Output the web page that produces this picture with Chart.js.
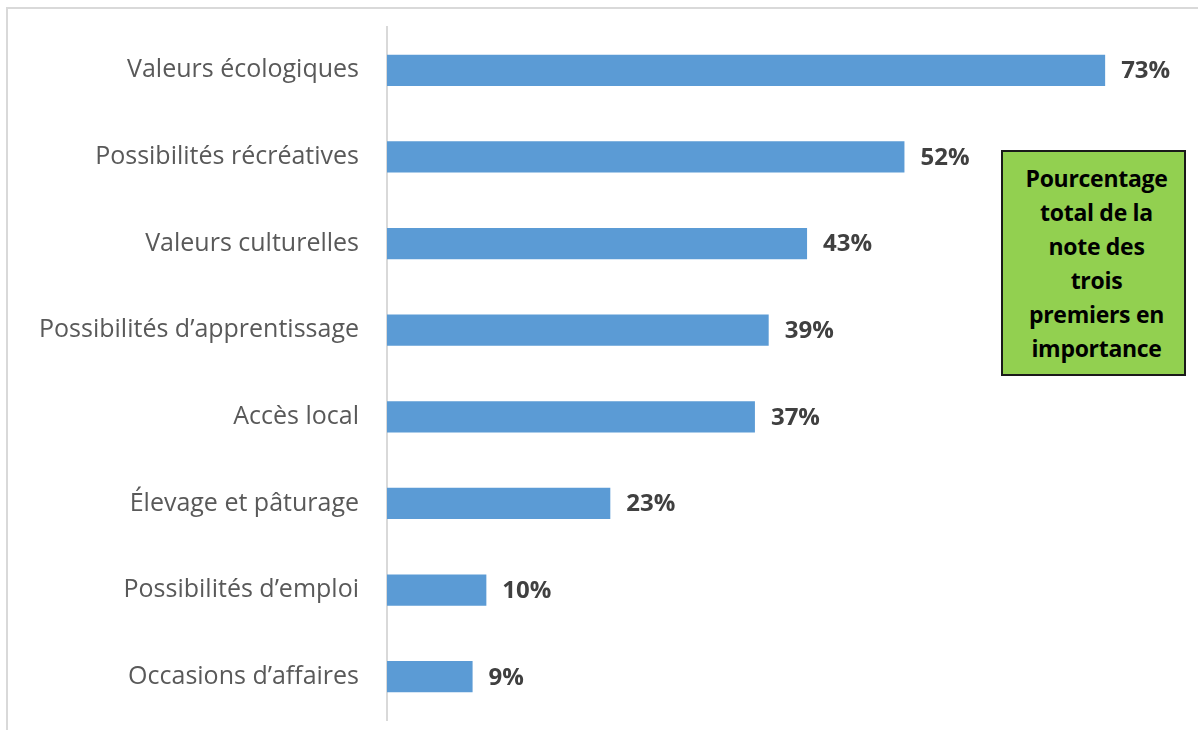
<!DOCTYPE html>
<html>
<head>
<meta charset="utf-8">
<script src="https://cdn.jsdelivr.net/npm/chart.js@4/dist/chart.umd.min.js"></script>
<style>
  body { margin: 0; background: #fff; }
  #wrap { position: relative; width: 1198px; height: 730px; }
  #frame { position: absolute; left: 6px; top: 7px; right: 0; bottom: 0;
           border-top: 2px solid #d9d9d9; border-left: 2px solid #d9d9d9; }
  #note { position: absolute; left: 1001px; top: 150px; height: 222px;
          background: #92d050; border: 2px solid #1a1a1a;
          font-family: "Open Sans", sans-serif; font-weight: bold; font-size: 23px;
          line-height: 34px; color: #000; text-align: center; letter-spacing: -0.3px;
          padding-left: 6px; box-sizing: content-box; width: 175px;
          display: flex; align-items: center; justify-content: center; }
  canvas { position: absolute; left: 0; top: 0; }
</style>
</head>
<body>
<div id="wrap">
  <div id="frame"></div>
  <canvas id="chart" width="1198" height="730"></canvas>
  <div id="note">Pourcentage<br>total de la<br>note des<br>trois<br>premiers en<br>importance</div>
</div>
<script>
const categories = [
    'Valeurs écologiques',
    'Possibilités récréatives',
    'Valeurs culturelles',
    'Possibilités d’apprentissage',
    'Accès local',
    'Élevage et pâturage',
    'Possibilités d’emploi',
    'Occasions d’affaires',
];
// bar lengths
const percentages = [73, 52.6, 42.7, 38.8, 37.4, 22.7, 10.1, 8.7];
// labels printed next to the bars
const percentLabels = ['73%', '52%', '43%', '39%', '37%', '23%', '10%', '9%'];

// writes the label right of each bar
const valueLabels = {
    id: 'valueLabels',
    afterDatasetsDraw(chart) {
        const ctx = chart.ctx;
        const meta = chart.getDatasetMeta(0);
        ctx.save();
        ctx.font = 'bold 24px "Open Sans", sans-serif';
        ctx.fillStyle = '#404040';
        ctx.textAlign = 'left';
        ctx.textBaseline = 'middle';
        meta.data.forEach((bar, i) => {
            ctx.fillText(percentLabels[i], bar.x + 16, bar.y + 1);
        });
        ctx.restore();
    }
};

const chart = new Chart(document.getElementById('chart'), {
    type: 'bar',
    data: {
        labels: categories,
        datasets: [{
            data: percentages,
            backgroundColor: '#5b9bd5',
            barPercentage: 0.9,
            categoryPercentage: 0.4,
        }],
    },
    options: {
        indexAxis: 'y',
        responsive: false,
        animation: false,
        layout: { padding: { top: 27, bottom: 10, right: 24, left: 0 } },
        plugins: { legend: { display: false }, tooltip: { enabled: false } },
        scales: {
            x: { display: false, min: 0, max: 80 },
            y: {
                grid: { display: false },
                border: { color: '#d9d9d9', width: 2 },
                ticks: {
                    color: '#595959',
                    font: { family: 'Open Sans', size: 25 },
                    padding: 20,
                },
                afterFit(scale) {
                    scale.width = 387;
                    scale.paddingTop = 0;
                    scale.paddingBottom = 0;
                },
            },
        },
    },
    plugins: [valueLabels],
});
</script>
</body>
</html>
